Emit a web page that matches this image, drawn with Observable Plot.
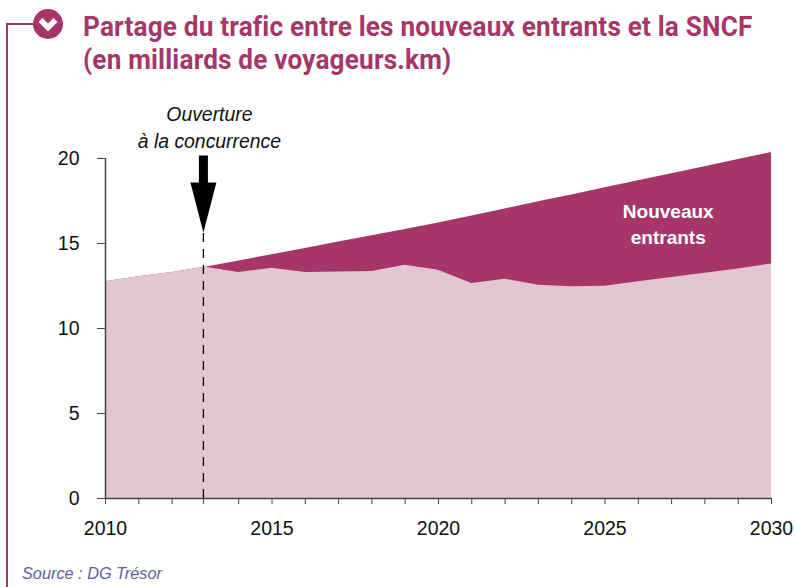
<!DOCTYPE html>
<html lang="fr">
<head>
<meta charset="utf-8">
<script src="https://cdn.jsdelivr.net/npm/d3@7"></script>
<script src="https://cdn.jsdelivr.net/npm/@observablehq/plot@0.6"></script>
<style>
  html, body { margin: 0; padding: 0; background: #fff; }
  #page { position: relative; width: 795px; height: 587px; overflow: hidden; font-family: "Liberation Sans", sans-serif; }
  #rule-v { position: absolute; left: 6px; top: 24px; width: 2px; height: 563px; background: #a63669; }
  #rule-h { position: absolute; left: 6px; top: 23px; width: 30px; height: 2px; background: #a63669; }
  #icon { position: absolute; left: 33px; top: 9px; }
  #header { height: 100px; box-sizing: border-box; padding: 11px 0 0 83px; }
  #title { margin: 0; color: #a63669; font: 700 28px/32.5px Roboto, sans-serif; transform-origin: 0 0; transform: scaleX(0.934); white-space: nowrap; letter-spacing: 0.2px; }
  #chart svg { display: block; }
  #source { position: absolute; left: 22px; top: 564px; color: #5c6199; font: italic 16.3px "Liberation Sans", sans-serif; }
</style>
</head>
<body>
<div id="page">
  <div id="rule-v"></div><div id="rule-h"></div>
  <svg id="icon" width="30" height="30" viewBox="0 0 30 30"><circle cx="15" cy="15" r="15" fill="#a63669"/><path d="M7.5 11 L15 18.5 L22.5 11" fill="none" stroke="#fff" stroke-width="5.5"/></svg>
  <div id="header"><h1 id="title">Partage du trafic entre les nouveaux entrants et la SNCF<br>(en milliards de voyageurs.km)</h1></div>
  <div id="chart"></div>
  <div id="source">Source : DG Trésor</div>
</div>
<script>
const years = [2010,2011,2012,2013,2014,2015,2016,2017,2018,2019,2020,2021,2022,2023,2024,2025,2026,2027,2028,2029,2030];
const total = [12.75,13.05,13.3,13.6,13.97,14.34,14.71,15.09,15.46,15.83,16.2,16.62,17.03,17.45,17.86,18.28,18.69,19.11,19.52,19.94,20.35];
const sncf  = [12.75,13.05,13.3,13.6,13.3,13.55,13.3,13.32,13.35,13.72,13.42,12.65,12.9,12.55,12.45,12.48,12.75,13.0,13.25,13.5,13.8];
const yTicks = [0,5,10,15,20];
const labelYears = [2010,2015,2020,2025,2030];
const openingYear = [2012.94];
const xTicks = [2010,2011,2012,2012.94,2014,2015,2016,2017,2018,2019,2020,2021,2022,2023,2024,2025,2026,2027,2028,2029,2030];
const rows = years.map((year, i) => ({year, total: total[i], sncf: sncf[i]}));

const plum = "#a63669", pale = "#e3c6d2", axisColor = "#444";
const arrowShape = {
  draw(ctx, l) {
    ctx.moveTo(0, 0); ctx.lineTo(13, -50); ctx.lineTo(4.5, -50); ctx.lineTo(4.5, -l);
    ctx.lineTo(-4.5, -l); ctx.lineTo(-4.5, -50); ctx.lineTo(-13, -50); ctx.closePath();
  }
};

const chart = Plot.plot({
  width: 795, height: 440,
  marginLeft: 105, marginRight: 24, marginTop: 58, marginBottom: 42,
  style: {fontFamily: '"Liberation Sans", sans-serif', background: "transparent", overflow: "visible"},
  x: {domain: [2010, 2030]},
  y: {domain: [0, 20]},
  marks: [
    Plot.areaY(rows, {x: "year", y: "total", fill: plum}),
    Plot.areaY(rows, {x: "year", y: "sncf", fill: pale}),
    Plot.ruleX(openingYear, {y1: 0, y2: 15.7, stroke: "#000", strokeWidth: 1.3, strokeDasharray: "9 7"}),
    Plot.vector(openingYear, {x: d => d, y: 15.65, length: 77, anchor: "start", shape: arrowShape, fill: "#000", stroke: "none"}),
    Plot.text(["Ouverture\nà la concurrence"], {x: openingYear, y: 20, text: d => d, dx: 6, dy: -11, lineAnchor: "bottom", lineHeight: 1.39, fontStyle: "italic", fontSize: 19.4, fill: "#111"}),
    Plot.text(["Nouveaux\nentrants"], {x: 2026.9, y: 16.25, text: d => d, lineHeight: 1.37, fontWeight: 700, fontSize: 19, fill: "#fff"}),
    Plot.ruleX([2010], {y1: 0, y2: 20, stroke: axisColor, strokeWidth: 1.5}),
    Plot.ruleY([0], {x1: 2010, x2: 2030, stroke: axisColor, strokeWidth: 1.5}),
    Plot.axisY({ticks: yTicks, label: null, tickSize: 8, tickPadding: 18, fontSize: 19.5, stroke: axisColor, color: "#111"}),
    Plot.axisX({ticks: xTicks, tickFormat: d => labelYears.includes(d) ? String(d) : "", label: null, tickSize: 6, tickPadding: 17, fontSize: 19.5, stroke: axisColor, color: "#111"})
  ]
});
document.getElementById("chart").appendChild(chart);
</script>
</body>
</html>
